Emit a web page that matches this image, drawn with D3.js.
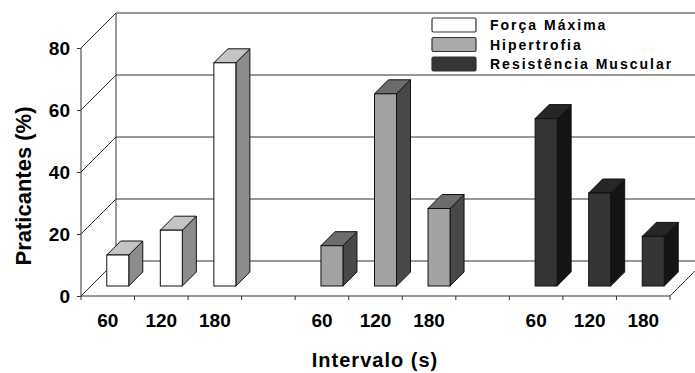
<!DOCTYPE html>
<html>
<head>
<meta charset="utf-8">
<script src="https://cdn.jsdelivr.net/npm/d3@7"></script>
<style>
  body { margin: 0; background: #fff; }
  text { font-family: "Liberation Sans", Arial, sans-serif; fill: #000; }
</style>
</head>
<body>
<svg id="chart" width="695" height="373"></svg>
<script>
// data
const series = ['Força Máxima', 'Hipertrofia', 'Resistência Muscular'];
const intervals = ['60', '120', '180'];
const forcaMaxima = [10, 18, 72];
const hipertrofia = [13, 62, 25];
const resistencia = [54, 30, 16];
const yTicks = [0, 20, 40, 60, 80];

const frontColors = ['#ffffff', '#a2a2a2', '#353535'];
const topColors = ['#c4c4c4', '#6c6c6c', '#262626'];
const sideColors = ['#8c8c8c', '#484848', '#141414'];

const values = [forcaMaxima, hipertrofia, resistencia];

// slots along the floor: 3 bars per series, an empty slot between series
const slots = [];
series.forEach((s, si) => {
  intervals.forEach((iv, ii) => slots.push({key: si + '-' + iv, label: iv, s: si, v: values[si][ii]}));
  if (si < series.length - 1) slots.push({key: 'gap' + si, label: '', s: -1});
});

const svg = d3.select('#chart');
const depth = 35;      // wall depth (dx = depth, dy = -depth)
const barOff = 10;     // bar front face pushed back into the floor
const barDepth = 14;
const barW = 22;

const x = d3.scaleBand().domain(slots.map(d => d.key)).range([81, 670]).padding(0);
const y = d3.scaleLinear().domain([0, 80]).range([296, 48]);

const lineCol = '#333';
const g = svg.append('g');

// back wall grid lines
g.selectAll('.grid').data(yTicks).enter().append('line')
  .attr('x1', 81 + depth).attr('x2', 720)
  .attr('y1', d => y(d) - depth).attr('y2', d => y(d) - depth)
  .attr('stroke', lineCol).attr('stroke-width', 1);

// side wall diagonals
g.selectAll('.diag').data(yTicks).enter().append('line')
  .attr('x1', 81).attr('y1', d => y(d))
  .attr('x2', 81 + depth).attr('y2', d => y(d) - depth)
  .attr('stroke', lineCol).attr('stroke-width', 1);

// back-left vertical edge
g.append('line').attr('x1', 81 + depth).attr('x2', 81 + depth)
  .attr('y1', y(80) - depth).attr('y2', y(0) - depth)
  .attr('stroke', lineCol);

// floor right edge
g.append('line').attr('x1', 670).attr('y1', y(0))
  .attr('x2', 670 + depth).attr('y2', y(0) - depth)
  .attr('stroke', lineCol);

// y axis
const yAxis = g.append('g').attr('transform', 'translate(81,0)')
  .call(d3.axisLeft(y).tickValues(yTicks).tickSize(4).tickPadding(7));
yAxis.select('.domain').attr('stroke', lineCol).attr('d', `M-0,${y(80)}V${y(0)}`);
yAxis.selectAll('.tick line').attr('stroke', lineCol);
yAxis.selectAll('.tick text')
  .style('font-family', '"Liberation Sans", Arial, sans-serif')
  .style('font-size', '19px').style('font-weight', 'bold').attr('fill', '#111');

// x axis along front edge of floor
const xAxis = g.append('g').attr('transform', 'translate(0,' + y(0) + ')')
  .call(d3.axisBottom(x).tickSize(0).tickFormat(k => slots.find(s => s.key === k).label).tickPadding(18));
xAxis.select('.domain').attr('stroke', lineCol).attr('d', 'M81,0H670');
xAxis.selectAll('.tick text')
  .style('font-family', '"Liberation Sans", Arial, sans-serif')
  .style('font-size', '19px').style('font-weight', 'bold').attr('fill', '#111');
const bounds = slots.map(d => x(d.key)).concat([x(slots[slots.length - 1].key) + x.step()]);
xAxis.selectAll('.bt').data(bounds).enter().append('line')
  .attr('x1', d => d).attr('x2', d => d).attr('y1', 0).attr('y2', 4)
  .attr('stroke', lineCol);

// 3D bars
const bars = g.selectAll('.bar').data(slots.filter(d => d.s >= 0)).enter().append('g');
bars.each(function(d) {
  const b = d3.select(this);
  const x0 = x(d.key) + (x.step() - barW) / 2 + barOff;
  const x1 = x0 + barW;
  const yb = y(0) - barOff;
  const yt = y(d.v) - barOff;
  const pts = p => p.map(q => q.join(',')).join(' ');
  b.append('polygon')
    .attr('points', pts([[x1, yt], [x1 + barDepth, yt - barDepth], [x1 + barDepth, yb - barDepth], [x1, yb]]))
    .attr('fill', sideColors[d.s]).attr('stroke', '#111').attr('stroke-width', 1);
  b.append('polygon')
    .attr('points', pts([[x0, yt], [x0 + barDepth, yt - barDepth], [x1 + barDepth, yt - barDepth], [x1, yt]]))
    .attr('fill', topColors[d.s]).attr('stroke', '#111').attr('stroke-width', 1);
  b.append('rect').attr('x', x0).attr('y', yt).attr('width', barW).attr('height', yb - yt)
    .attr('fill', frontColors[d.s]).attr('stroke', '#111').attr('stroke-width', 1);
});

// legend
const legend = svg.append('g').attr('transform', 'translate(432,18)');
series.forEach((s, i) => {
  const row = legend.append('g').attr('transform', 'translate(0,' + (i * 19.5) + ')');
  row.append('rect').attr('x', 0).attr('y', 0).attr('width', 44).attr('height', 14).attr('rx', 1.5)
    .attr('fill', i === 1 ? '#aaaaaa' : frontColors[i]).attr('stroke', '#333').attr('stroke-width', 1.2);
  row.append('text').attr('x', 58).attr('y', 12)
    .style('font-size', '14px').style('font-weight', 'bold').style('letter-spacing', '2px')
    .attr('fill', '#222').text(s);
});

// axis titles
svg.append('text').attr('transform', 'translate(31,186) rotate(-90)')
  .attr('text-anchor', 'middle')
  .style('font-size', '22px').style('font-weight', 'bold').attr('fill', '#111')
  .text('Praticantes (%)');
svg.append('text').attr('x', 375).attr('y', 367).attr('text-anchor', 'middle')
  .style('font-size', '20px').style('font-weight', 'bold').style('letter-spacing', '1px').attr('fill', '#111')
  .text('Intervalo (s)');
</script>
</body>
</html>
